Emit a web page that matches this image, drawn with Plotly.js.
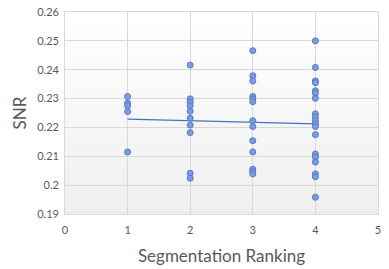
<!DOCTYPE html>
<html>
<head>
<meta charset="utf-8">
<script src="https://cdn.plot.ly/plotly-3.0.1.min.js"></script>
<style>
html,body{margin:0;padding:0;background:#fff;}
#wrap{position:relative;width:389px;height:269px;}
#bg{position:absolute;left:65px;top:12px;width:313px;height:202px;background:linear-gradient(to bottom,#ffffff 0%,#efefef 100%);}
#chart{position:absolute;left:0;top:0;width:389px;height:269px;}
</style>
</head>
<body>
<div id="wrap"><div id="bg"></div><div id="chart"></div></div>
<script>
const rank1 = [0.2307, 0.2285, 0.2275, 0.2255, 0.2115];
const rank2 = [0.2416, 0.2299, 0.2287, 0.2275, 0.2256, 0.2232, 0.2208, 0.2182, 0.2041, 0.2024];
const rank3 = [0.2466, 0.2379, 0.2361, 0.2307, 0.2299, 0.2289, 0.2223, 0.2203, 0.2154, 0.2115, 0.2055, 0.2047, 0.2039];
const rank4 = [0.2500, 0.2408, 0.2361, 0.2355, 0.2327, 0.2318, 0.2301, 0.2247, 0.2235, 0.2223, 0.2212, 0.2203, 0.2175, 0.2108, 0.2097, 0.2080, 0.2039, 0.2029, 0.1958];
const trendX = [1, 4];
const trendY = [0.2229, 0.2212];

const xs = [], ys = [];
[[1, rank1], [2, rank2], [3, rank3], [4, rank4]].forEach(([r, arr]) => {
  arr.forEach(v => { xs.push(r); ys.push(v); });
});

const font = {family: 'Lato, "Open Sans", sans-serif', color: '#595959'};

Plotly.newPlot('chart', [
  {x: trendX, y: trendY, mode: 'lines', type: 'scatter', line: {color: '#4472C4', width: 1.2}, hoverinfo: 'skip'},
  {x: xs, y: ys, mode: 'markers', type: 'scatter',
   marker: {size: 6, color: '#7B9DE0', line: {color: '#5479C9', width: 1}}}
], {
  width: 389, height: 269,
  margin: {l: 65, r: 11, t: 12, b: 55},
  paper_bgcolor: 'rgba(0,0,0,0)',
  plot_bgcolor: 'rgba(0,0,0,0)',
  showlegend: false,
  font: font,
  xaxis: {
    range: [0, 5], dtick: 1, tick0: 0, showgrid: true, gridcolor: '#d9d9d9', gridwidth: 1,
    zeroline: false, showline: true, linecolor: '#d9d9d9', mirror: true,
    ticks: '', ticklabelstandoff: 6, tickfont: {size: 11, color: '#595959', family: font.family},
    title: {text: 'Segmentation Ranking', font: {size: 17, color: '#595959', family: font.family}, standoff: 14}
  },
  yaxis: {
    range: [0.19, 0.26], dtick: 0.01, tick0: 0.19, showgrid: true, gridcolor: '#d9d9d9', gridwidth: 1,
    zeroline: false, showline: true, linecolor: '#d9d9d9', mirror: true,
    ticks: '', tickfont: {size: 11, color: '#595959', family: font.family},
    tickformat: '~r', ticksuffix: ' ',
    title: {text: 'SNR', font: {size: 17, color: '#595959', family: font.family}, standoff: 6}
  }
}, {staticPlot: true, displayModeBar: false});
</script>
</body>
</html>
